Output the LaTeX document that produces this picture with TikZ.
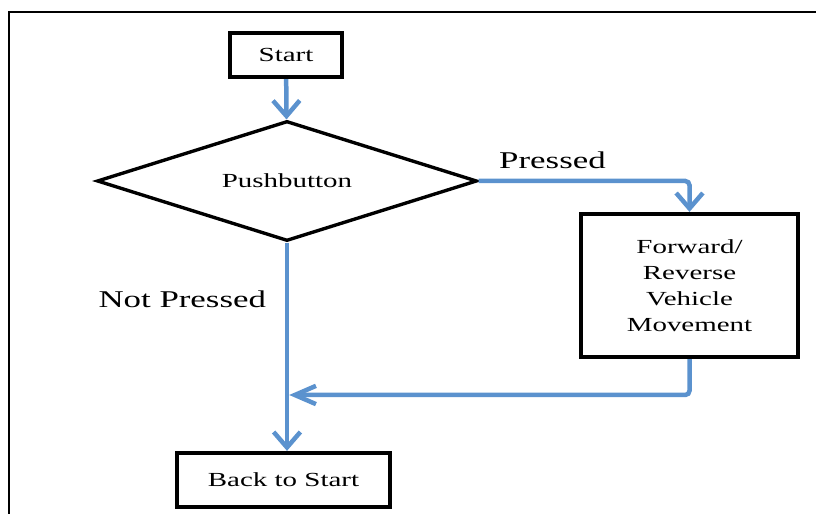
\documentclass[tikz,border=0pt]{standalone}
\usepackage{fontspec}
\setmainfont{Liberation Serif}[FakeStretch=1.45]
\usetikzlibrary{shapes.geometric}
\usetikzlibrary{arrows.meta}

\definecolor{flowblue}{RGB}{91,146,206}

\begin{document}
\begin{tikzpicture}[>/.tip={Straight Barb[length=11pt,width=19pt]},
	box/.style={draw,line width=3pt,font=\fontsize{14.2}{18.5}\selectfont,inner sep=0pt},
	flow/.style={->,draw=flowblue,line width=3.2pt,rounded corners=3pt},
	lbl/.style={font=\fontsize{17.1}{20}\selectfont}]
	\useasboundingbox (0,0) rectangle (20.4,12.85);
	\draw[line width=1.6pt] (0.225,0) -- (0.225,12.55) -- (20.4,12.55);

	\draw (7.15,11.475) node (start) [box,minimum width=2.8cm,minimum height=1.1cm] {Start};
	\draw (7.175,8.325) node (push) [draw,diamond,aspect=3.17,minimum width=9.5cm,minimum height=3cm,line width=2.4pt,inner sep=0pt,font=\fontsize{14.2}{18.5}\selectfont] {Pushbutton};
	\draw (17.2375,5.7125) node (fwd) [box,align=center,minimum width=5.425cm,minimum height=3.575cm] {Forward/\\Reverse\\Vehicle\\Movement};
	\draw (7.0875,0.85) node (back) [box,minimum width=5.325cm,minimum height=1.35cm] {Back to Start};
	\coordinate (join) at (7.23,2.975);

	\draw[flow] (start) -- (push);
	\draw[flow] (push.east) -| node [lbl,above=3.5pt,pos=0.175] {Pressed} (fwd.north);
	\draw[flow] (push.south) -- node [lbl,left=10pt,pos=0.27] {Not Pressed} (push.south |- back.north);
	\draw[flow,-{Straight Barb[length=15pt,width=13pt]}] (fwd.south) |- (join);
\end{tikzpicture}
\end{document}
